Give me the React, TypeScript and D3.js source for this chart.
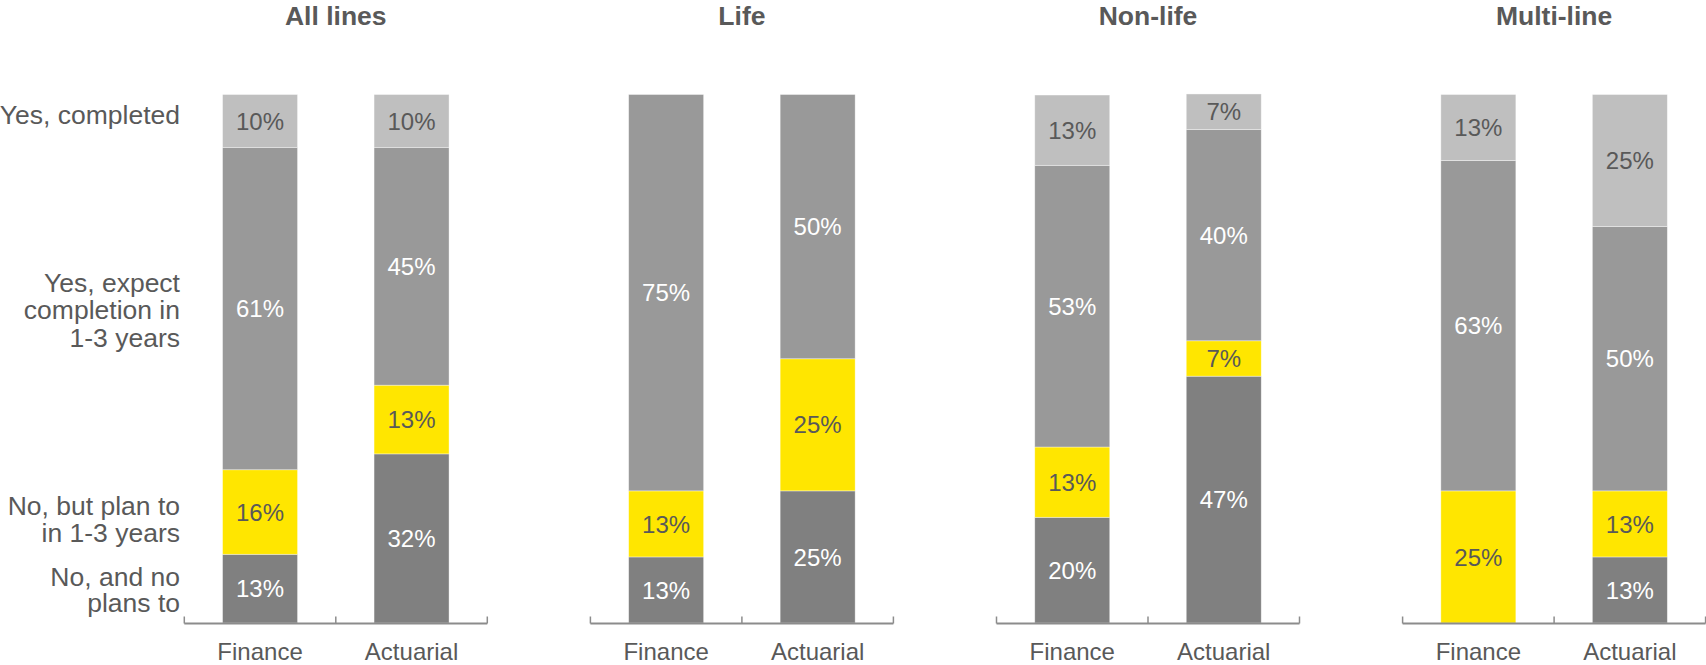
import React from "react";
import * as d3 from "d3";

const panels = ["All lines", "Life", "Non-life", "Multi-line"];
const functions = ["Finance", "Actuarial"];
const seriesKeys = ["noPlans", "planTo", "expect", "completed"];
const seriesLabels = [
  ["No, and no", "plans to"],
  ["No, but plan to", "in 1-3 years"],
  ["Yes, expect", "completion in", "1-3 years"],
  ["Yes, completed"],
];
// values per panel: [Finance, Actuarial], each [noPlans, planTo, expect, completed]
const noPlans = [[13, 32], [12.5, 25], [20, 46.7], [0, 12.5]];
const planTo = [[16, 13], [12.5, 25], [13.3, 6.7], [25, 12.5]];
const expect = [[61, 45], [75, 50], [53.3, 40], [62.5, 50]];
const completed = [[10, 10], [0, 0], [13.3, 6.7], [12.5, 25]];

const colors = ["#808080", "#ffe600", "#999999", "#bfbfbf"];
const textColors = ["#ffffff", "#595959", "#ffffff", "#595959"];
const labelLayout = [
  [585.7, 611.7],
  [515, 542.3],
  [291.7, 319.3, 347],
  [124],
];

const W = 1706;
const H = 665;
const font = "Arial, 'Liberation Sans', Helvetica, sans-serif";

export default function App() {
  const y = d3.scaleLinear().domain([0, 100]).range([623, 94.5]);
  const panelX = d3
    .scaleBand<string>()
    .domain(panels)
    .range([184.3, 184.3 + 406.1 * 4])
    .padding(0);
  const axisW = 303;
  const x = d3
    .scaleBand<string>()
    .domain(functions)
    .range([0, axisW])
    .paddingInner(0.505)
    .paddingOuter(0.2525);

  const rows = panels.map((p, pi) =>
    functions.map((f, fi) => {
      const o: any = { panel: p, fn: f };
      o.noPlans = noPlans[pi][fi];
      o.planTo = planTo[pi][fi];
      o.expect = expect[pi][fi];
      o.completed = completed[pi][fi];
      return o;
    })
  );
  const stack = d3.stack<any>().keys(seriesKeys);

  return (
    <svg
      width={W}
      height={H}
      style={{ position: "absolute", left: 0, top: 0, fontFamily: font }}
    >
      {seriesLabels.map((lines, si) =>
        lines.map((t, li) => (
          <text
            key={`l${si}-${li}`}
            x={180}
            y={labelLayout[si][li]}
            textAnchor="end"
            fontSize={26.5}
            fill="#595959"
          >
            {t}
          </text>
        ))
      )}
      {panels.map((p, pi) => {
        const x0 = panelX(p)!;
        const series = stack(rows[pi]);
        const axisY = y(0) + 0.5;
        return (
          <g key={p} transform={`translate(${x0},0)`}>
            <text
              x={axisW / 2}
              y={25}
              textAnchor="middle"
              fontSize={26.5}
              fontWeight="bold"
              fill="#595959"
            >
              {p}
            </text>
            {series.map((s, si) =>
              s.map((d, di) => {
                const v = d[1] - d[0];
                if (v <= 0) return null;
                const bx = x(functions[di])!;
                const y1 = y(d[1]);
                const y0 = y(d[0]);
                return (
                  <g key={`${si}-${di}`}>
                    <rect
                      x={bx}
                      y={y1}
                      width={x.bandwidth()}
                      height={y0 - y1}
                      fill={colors[si]}
                      stroke="#ffffff"
                      strokeOpacity={0.5}
                      strokeWidth={0.75}
                    />
                    <text
                      x={bx + x.bandwidth() / 2}
                      y={(y0 + y1) / 2 + 8.6}
                      textAnchor="middle"
                      fontSize={24}
                      fill={textColors[si]}
                    >
                      {`${Math.round(v)}%`}
                    </text>
                  </g>
                );
              })
            )}
            <line x1={0} x2={axisW} y1={axisY} y2={axisY} stroke="#8c8c8c" strokeWidth={2} />
            {[0, axisW / 2, axisW].map((t) => (
              <line key={t} x1={t} x2={t} y1={axisY} y2={axisY - 7} stroke="#8c8c8c" strokeWidth={1.5} />
            ))}
            {functions.map((f) => (
              <text
                key={f}
                x={x(f)! + x.bandwidth() / 2}
                y={660}
                textAnchor="middle"
                fontSize={24}
                fill="#595959"
              >
                {f}
              </text>
            ))}
          </g>
        );
      })}
    </svg>
  );
}
